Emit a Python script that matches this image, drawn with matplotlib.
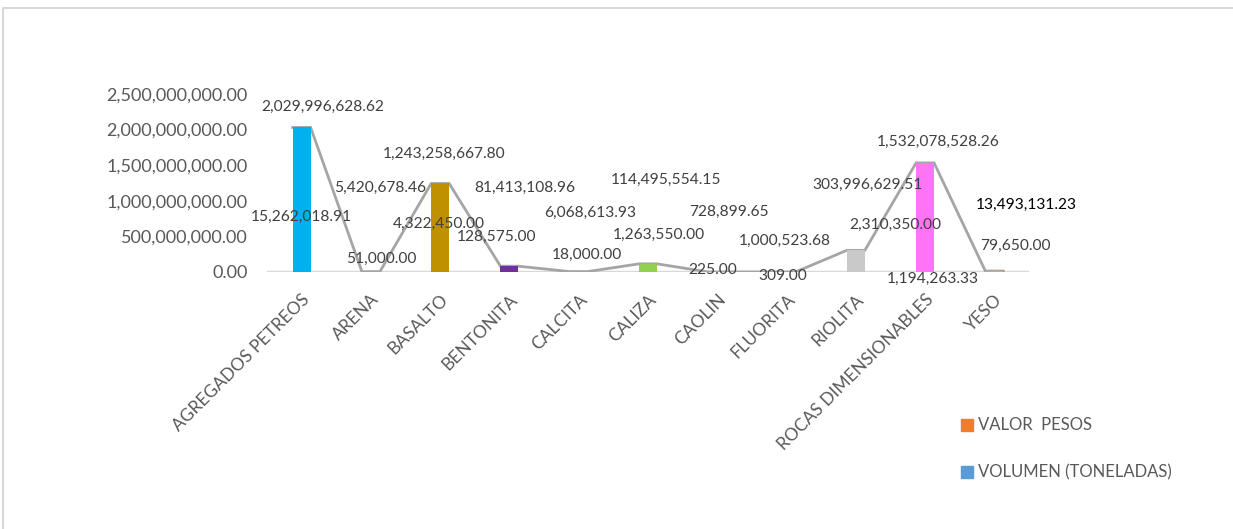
import matplotlib.pyplot as plt
import numpy as np
from matplotlib.patches import Rectangle

plt.rcParams['font.family'] = ['Lato', 'DejaVu Sans']

categorias = ['AGREGADOS PETREOS', 'ARENA', 'BASALTO', 'BENTONITA', 'CALCITA',
              'CALIZA', 'CAOLIN', 'FLUORITA', 'RIOLITA', 'ROCAS DIMENSIONABLES', 'YESO']
valor_pesos = [2029996628.62, 5420678.46, 1243258667.80, 81413108.96, 6068613.93,
               114495554.15, 728899.65, 1000523.68, 303996629.51, 1532078528.26,
               13493131.23]
volumen_ton = [15262018.91, 51000.00, 4322450.00, 128575.00, 18000.00,
               1263550.00, 225.00, 309.00, 2310350.00, 1194263.33, 79650.00]
colores_barras = ['#00B0F0', '#F8CBAD', '#BF9000', '#7030A0', '#F8CBAD',
                  '#92D050', '#F8CBAD', '#F8CBAD', '#C9C9C9', '#FF73F5', '#D9A08A']

# label anchor positions (pixel coords of the reference, converted below)
pos_valor = [(323, 107), (380, 188), (444, 154), (524, 188), (590, 213), (666, 180),
             (728, 212), (784, 241), (867, 185), (937, 142), (1025, 205)]
pos_volumen = [(301, 217), (381, 259), (439, 224), (496, 237), (586, 255), (658, 235),
               (712, 270), (782, 276), (895, 225), (932, 279), (1014, 246)]

W, H = 1233, 529
fig = plt.figure(figsize=(W / 100, H / 100), dpi=100)
fig.patch.set_facecolor('white')

# outer chart frame
fig.patches.append(Rectangle((3 / W, -0.1), 1.2, (H - 8) / H + 0.1, transform=fig.transFigure,
                             fill=False, edgecolor='#D0D0D0', linewidth=1.2))

left, right = 267 / W, 1029 / W
bottom = (H - 272) / H
top = (H - 94) / H
ax = fig.add_axes([left, bottom, right - left, top - bottom])

x = np.arange(len(categorias))
ancho = 0.26
ax.bar(x, valor_pesos, width=ancho, color=colores_barras, zorder=3)

# gray outline through bar tops
lx, ly = [], []
for i, v in enumerate(valor_pesos):
    lx += [i - ancho / 2, i + ancho / 2]
    ly += [v, v]
ax.plot(lx, ly, color='#A5A5A5', linewidth=2, zorder=2, solid_joinstyle='miter')

ax.axhline(0, color='#D9D9D9', linewidth=2.5, zorder=1)

ax.set_xlim(-0.5, len(categorias) - 0.5)
ax.set_ylim(0, 2.5e9)
ax.set_yticks(np.arange(0, 2.5e9 + 1, 5e8))
ax.set_yticklabels([f'{t:,.2f}' for t in np.arange(0, 2.5e9 + 1, 5e8)],
                   fontsize=13, color='#595959')
ax.set_xticks(x)
ax.set_xticklabels(categorias, rotation=45, ha='right', rotation_mode='anchor',
                   fontsize=12.5, color='#595959')
ax.tick_params(length=0, pad=14)
ax.tick_params(axis='x', pad=14)
for s in ax.spines.values():
    s.set_visible(False)


def to_data(px, py):
    return (px - 301.5) / 69.2, (272 - py) * 2.5e9 / 178


for i in range(len(categorias)):
    tx, ty = to_data(*pos_valor[i])
    col = '#000000' if i == len(categorias) - 1 else '#404040'
    ax.text(tx, ty, f'{valor_pesos[i]:,.2f}', ha='center', va='center',
            fontsize=11.2, color=col, clip_on=False, zorder=4)
    tx, ty = to_data(*pos_volumen[i])
    ax.text(tx, ty, f'{volumen_ton[i]:,.2f}', ha='center', va='center',
            fontsize=11.2, color='#404040', clip_on=False, zorder=4)

# legend
for yy, col, lab in [(425, '#ED7D31', 'VALOR  PESOS'), (472, '#5B9BD5', 'VOLUMEN (TONELADAS)')]:
    fig.patches.append(Rectangle((961 / W, (H - yy - 6) / H), 12 / W, 12 / H,
                                 transform=fig.transFigure, color=col))
    fig.text(978 / W, (H - yy) / H, lab, fontsize=12, color='#595959', va='center')

fig.savefig('out.png', dpi=100)
